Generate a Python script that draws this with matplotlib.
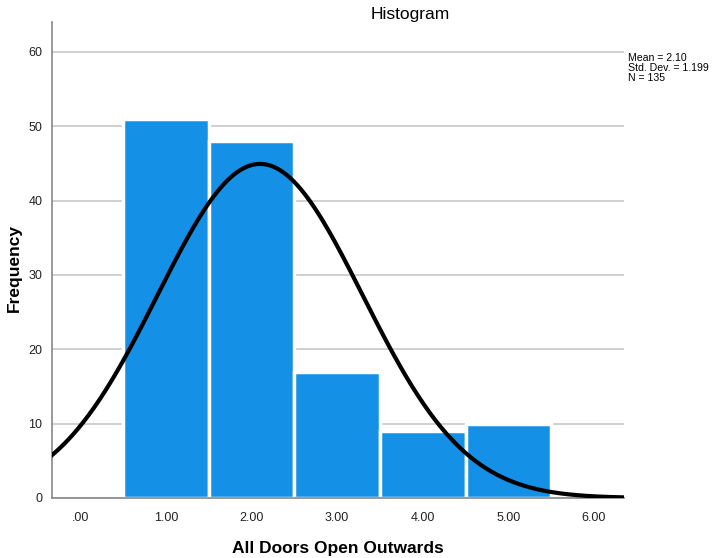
import numpy as np
import matplotlib
matplotlib.use("Agg")
import matplotlib.pyplot as plt

categories = [1, 2, 3, 4, 5]
frequencies = [51, 48, 17, 9, 10]
xtick_values = [0, 1, 2, 3, 4, 5, 6]
xtick_labels = [".00", "1.00", "2.00", "3.00", "4.00", "5.00", "6.00"]
yticks = [0, 10, 20, 30, 40, 50, 60]
mean_val = 2.10
std_val = 1.199
n_val = 135

plt.rcParams['font.family'] = ['Liberation Sans', 'DejaVu Sans']

fig = plt.figure(figsize=(7.13, 5.58), dpi=100)
ax = fig.add_axes([52/713, 1-498/558, (624-52)/713, (498-22)/558])

ax.set_axisbelow(True)
ax.yaxis.grid(True, color='#c8c8c8', linewidth=1.2)
ax.bar(categories, frequencies, width=1.0, color='#1490E6', edgecolor='white', linewidth=2.5, zorder=2)

xs = np.linspace(-0.33, 6.35, 400)
ys = n_val * 1.0 / (std_val * np.sqrt(2*np.pi)) * np.exp(-0.5*((xs-mean_val)/std_val)**2)
ax.plot(xs, ys, color='black', linewidth=3, zorder=3)

ax.set_xlim(-0.33, 6.35)
ax.set_ylim(0, 64)
ax.set_xticks(xtick_values)
ax.set_xticklabels(xtick_labels)
ax.set_yticks(yticks)
ax.tick_params(axis='x', length=0, labelsize=9, colors='#222222', pad=10)
ax.tick_params(axis='y', length=0, labelsize=9, colors='#222222', pad=7)
for s in ['top', 'right']:
    ax.spines[s].set_visible(False)
for s in ['left', 'bottom']:
    ax.spines[s].set_color('#888888')
    ax.spines[s].set_linewidth(1.2)

fig.text(338/713, 1-548/558, "All Doors Open Outwards", ha='center', va='center',
         fontsize=12.5, fontweight='bold')
fig.text(14/713, 1-268/558, "Frequency", ha='center', va='center', rotation=90,
         fontsize=12.5, fontweight='bold')
fig.text(410/713, 1-14/558, "Histogram", ha='center', va='center', fontsize=12.5)
fig.text(628/713, 1-53/558, f"Mean = {mean_val:.2f}\nStd. Dev. = {std_val:.3f}\nN = {n_val}",
         ha='left', va='top', fontsize=7.6, linespacing=1.0)

fig.savefig("out.png", dpi=100)
